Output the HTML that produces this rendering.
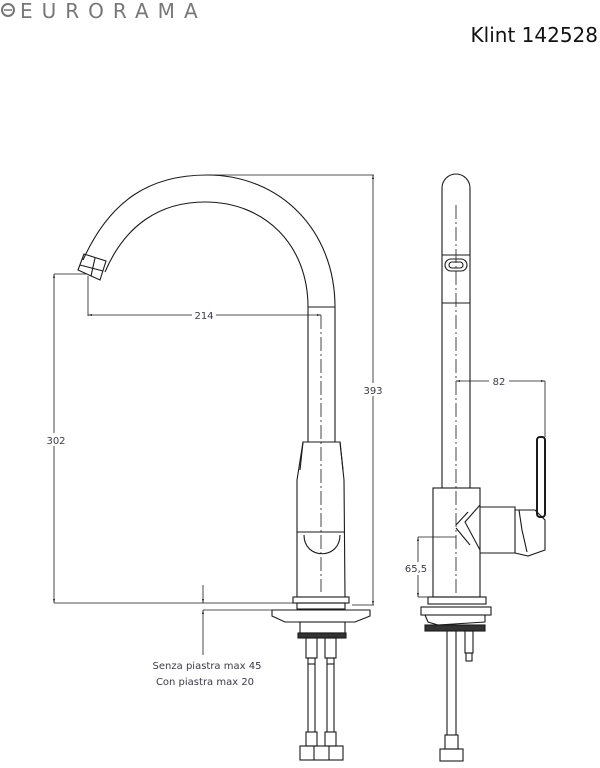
<!DOCTYPE html>
<html><head><meta charset="utf-8"><style>
html,body{margin:0;padding:0;background:#fff;width:600px;height:768px;overflow:hidden}
svg{display:block}
text{font-family:"DejaVu Sans","Liberation Sans",sans-serif}
</style></head><body>
<svg width="600" height="768" viewBox="0 0 600 768" xmlns="http://www.w3.org/2000/svg">
<defs>
<marker id="a" viewBox="0 0 6 6" refX="6" refY="3" markerWidth="5" markerHeight="5" orient="auto-start-reverse"><path d="M0,1.5 L6,3 L0,4.5z" fill="#222"/></marker>
</defs>
<!-- header -->
<circle cx="8" cy="10" r="6" fill="none" stroke="#777" stroke-width="2"/>
<line x1="4" y1="10" x2="12" y2="10" stroke="#777" stroke-width="1.5"/>
<text x="20" y="18" font-size="20" fill="#777" letter-spacing="9" font-family="Liberation Sans, sans-serif">EURORAMA</text>
<text x="598" y="42" font-size="20" fill="#111" text-anchor="end">Klint 142528</text>

<g fill="none" stroke="#1a1a1a" stroke-width="1.1">
<!-- FRONT VIEW spout -->
<path d="M83,260 C110,200 150,175 207,175 C280,175 335,230 335,307 L335,442"/>
<path d="M105,272 C125,225 160,202 205,202 C265,202 308,245 308,307 L308,442"/>
<line x1="308" y1="307" x2="335" y2="307"/>
<!-- nozzle -->
<path d="M78,270 L84,254 L106,261 L100,280 Z"/>
<line x1="80" y1="265" x2="103" y2="271"/>
<line x1="95" y1="258" x2="91" y2="276"/>
<!-- body -->
<path d="M303,442 L340,442 L344,480 L345,597 L297,597 L297,480 Z"/>
<path d="M304,535 C304,560 340,560 340,535"/>
<path d="M300,470 L303,442 M343,470 L340,442"/>
<line x1="297" y1="532" x2="345" y2="532"/>
<!-- base -->
<rect x="293" y="597" width="56" height="6"/>
<rect x="297" y="603" width="48" height="6"/>
<path d="M272,610 L370,610 L370,616 L355,622 L285,622 L272,616 Z"/>
<rect x="300" y="622" width="45" height="11"/>
<rect x="298" y="633" width="48" height="5" fill="#333"/>
<rect x="306" y="638" width="11" height="20"/><rect x="325" y="638" width="11" height="20"/>
<rect x="308" y="658" width="7" height="6"/><rect x="327" y="658" width="7" height="6"/>
<line x1="308" y1="664" x2="308" y2="732"/><line x1="315" y1="664" x2="315" y2="732"/>
<line x1="327" y1="664" x2="327" y2="732"/><line x1="334" y1="664" x2="334" y2="732"/>
<rect x="306" y="732" width="11" height="14"/><rect x="325" y="732" width="11" height="14"/>
<rect x="300" y="746" width="43" height="14"/>
<line x1="314" y1="746" x2="314" y2="760"/><line x1="329" y1="746" x2="329" y2="760"/>
<!-- centerline -->
<line x1="321" y1="315" x2="321" y2="592" stroke-dasharray="14,3,2,3" stroke-width="0.8"/>

<!-- dimensions front -->
<line x1="207" y1="175" x2="374" y2="175" stroke-width="0.8"/>
<line x1="373" y1="175" x2="373" y2="605" stroke-width="0.8" marker-start="url(#a)" marker-end="url(#a)"/>
<line x1="352" y1="605" x2="374" y2="605" stroke-width="0.8"/>
<line x1="54" y1="274" x2="86" y2="274" stroke-width="0.8"/>
<line x1="54" y1="274" x2="54" y2="603" stroke-width="0.8" marker-start="url(#a)" marker-end="url(#a)"/>
<line x1="54" y1="603" x2="293" y2="603" stroke-width="0.8"/>
<line x1="88" y1="276" x2="88" y2="316" stroke-width="0.8"/>
<line x1="88" y1="315" x2="321" y2="315" stroke-width="0.8" marker-start="url(#a)" marker-end="url(#a)"/>
<line x1="203" y1="585" x2="203" y2="603" stroke-width="0.8" marker-end="url(#a)"/>
<line x1="203" y1="655" x2="203" y2="610" stroke-width="0.8" marker-end="url(#a)"/>
<line x1="203" y1="610" x2="272" y2="610" stroke-width="0.8"/>

<!-- SIDE VIEW -->
<path d="M442,488 L442,188 A14,14 0 0 1 470,188 L470,488"/>
<line x1="442" y1="255" x2="470" y2="255"/>
<rect x="445" y="259" width="22" height="12" rx="6"/>
<rect x="449" y="262" width="14" height="6" rx="3"/>
<line x1="442" y1="303" x2="470" y2="303"/>
<line x1="456" y1="205" x2="456" y2="595" stroke-dasharray="14,3,2,3" stroke-width="0.8"/>
<rect x="433" y="488" width="47" height="109"/>
<path d="M480,505 L465,522 L480,550"/>
<path d="M456,525 L468,512 M456,528 L470,545"/>
<path d="M480,507 L515,507 L515,553 L480,553"/>
<path d="M515,510 L535,510 L545,520 L545,550 L528,556 L515,553"/>
<path d="M519,510 L522,530 L527,552"/>
<rect x="537" y="437" width="8" height="80" rx="3" stroke-width="2"/>
<rect x="428" y="597" width="58" height="7"/>
<rect x="421" y="607" width="70" height="8"/>
<path d="M425,615 L485,615 L485,622 L438,625 L428,622 Z"/>
<rect x="425" y="625" width="60" height="6" fill="#333"/>
<rect x="465" y="631" width="8" height="22"/><rect x="466" y="653" width="6" height="8"/>
<line x1="447" y1="631" x2="447" y2="735"/><line x1="456" y1="631" x2="456" y2="735"/>
<rect x="445" y="735" width="13" height="14"/>
<rect x="440" y="749" width="23" height="12"/>
<!-- side dims -->
<line x1="456" y1="381" x2="545" y2="381" stroke-width="0.8" marker-start="url(#a)" marker-end="url(#a)"/>
<line x1="545" y1="381" x2="545" y2="437" stroke-width="0.8"/>
<line x1="418" y1="537" x2="456" y2="537" stroke-width="0.8"/>
<line x1="418" y1="537" x2="418" y2="597" stroke-width="0.8" marker-start="url(#a)" marker-end="url(#a)"/>
<line x1="418" y1="597" x2="428" y2="597" stroke-width="0.8"/>
</g>
<g font-size="10" fill="#3a3a4a" text-anchor="middle">
<rect x="192" y="309" width="24" height="12" fill="#fff"/>
<text x="204" y="319">214</text>
<rect x="361" y="383" width="24" height="13" fill="#fff"/>
<text x="373" y="394">393</text>
<rect x="44" y="433" width="24" height="13" fill="#fff"/>
<text x="56" y="444">302</text>
<rect x="489" y="375" width="20" height="12" fill="#fff"/>
<text x="499" y="385">82</text>
<rect x="404" y="562" width="28" height="13" fill="#fff"/>
<text x="416" y="572">65,5</text>
<text x="207" y="669">Senza piastra max 45</text>
<text x="205" y="685">Con piastra max 20</text>
</g>
</svg>
</body></html>
